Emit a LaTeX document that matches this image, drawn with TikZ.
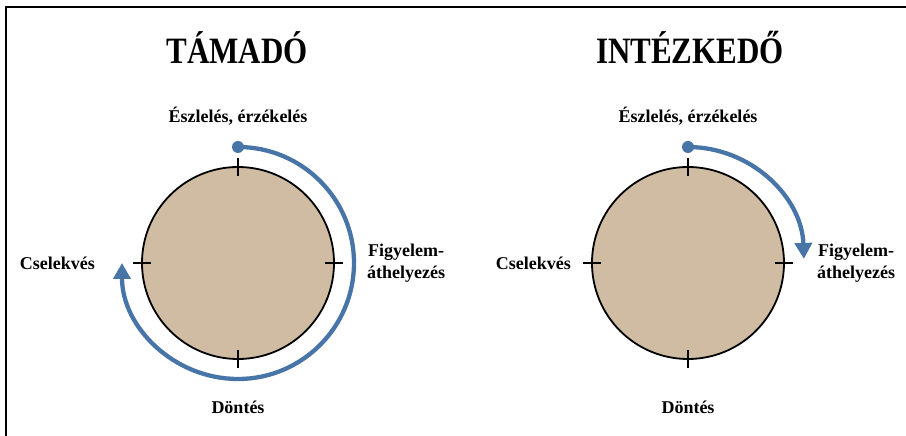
\documentclass[tikz,border=0pt]{standalone}
\usepackage{fontspec}
\usepackage{graphicx}
\setmainfont{Liberation Serif}
\usetikzlibrary{arrows.meta,positioning,calc}

\definecolor{arcblue}{RGB}{72,117,167}
\definecolor{disc}{RGB}{207,188,163}

\begin{document}
\begin{tikzpicture}[x=1pt, y=1pt, node distance=40pt]
    \useasboundingbox (0,0) rectangle (906,436);
    \tikzset{
        phase/.style={font=\fontsize{18}{22}\selectfont\bfseries, inner sep=0pt, align=center},
        title/.style={font=\fontsize{31}{36}\selectfont\bfseries, inner sep=0pt},
        tick/.style={line width=1.5pt},
        flow/.style={arcblue, line width=4.3pt, -{Triangle[length=16pt, width=17pt]}}
    }

    % Frame
    \draw[line width=1.8pt] (6,0) -- (6,429) -- (906,429);

    % Discs
    \node[circle, draw, line width=1.8pt, fill=disc, minimum size=192pt] (att) at (238,173) {};
    \node[circle, draw, line width=1.8pt, fill=disc, minimum size=192pt] (pol) at (688,173) {};

    % Titles
    \node[title] (atttitle) at (237,388) {\scalebox{1}[1.2]{TÁMADÓ}};
    \node[title] (poltitle) at (690,388) {\scalebox{1}[1.2]{INTÉZKEDŐ}};

    % Phases of the attacker
    \node[phase, above=41pt of att] (attper) {Észlelés, érzékelés};
    \node[phase, right=32pt of att] (attfoc) {Figyelem-\\áthelyezés};
    \node[phase, below=41pt of att] (attdec) {Döntés};
    \node[phase, left=46pt of att] (attact) {Cselekvés};

    % Phases of the officer
    \node[phase, above=41pt of pol] (polper) {Észlelés, érzékelés};
    \node[phase, right=32pt of pol] (polfoc) {Figyelem-\\áthelyezés};
    \node[phase, below=41pt of pol] (poldec) {Döntés};
    \node[phase, left=20pt of pol] (polact) {Cselekvés};

    % Ticks
    \foreach \c in {att,pol}
        \foreach \a in {0,90,180,270}
            \draw[tick] ($(\c)+(\a:87)$) -- ($(\c)+(\a:105)$);

    % Cycles
    \coordinate (attstart) at ($(att)+(90:116)$);
    \coordinate (polstart) at ($(pol)+(90:116)$);
    \draw[flow] (attstart) arc[start angle=90, end angle=-180, radius=116];
    \fill[arcblue] (attstart) circle (6);
    \draw[flow] (polstart) arc[start angle=90, end angle=2, radius=116];
    \fill[arcblue] (polstart) circle (6);
\end{tikzpicture}
\end{document}
